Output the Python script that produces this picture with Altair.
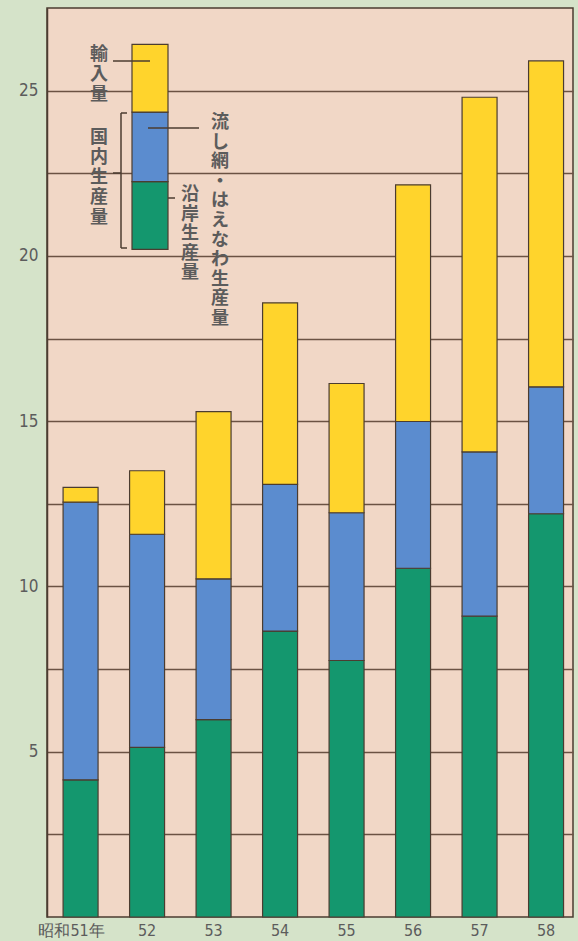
import altair as alt
import pandas as pd

# 昭和51〜58年の供給量（万トン）：沿岸・流し網はえなわ・輸入
years = ["昭和51年", "52", "53", "54", "55", "56", "57", "58"]
coastal = [4.15, 5.13, 5.97, 8.65, 7.76, 10.55, 9.10, 12.20]
driftnet = [8.40, 6.45, 4.26, 4.44, 4.47, 4.44, 4.97, 3.84]
imports = [0.45, 1.92, 5.06, 5.49, 3.91, 7.16, 10.73, 9.86]

series_names = ["沿岸生産量", "流し網・はえなわ生産量", "輸入量"]
series_colors = ["#14976e", "#5b8ccf", "#ffd42c"]

# key bar boundaries (same units as the y axis)
key_bounds = [20.2, 22.25, 24.35, 26.4]

y_ticks = [2.5, 5, 7.5, 10, 12.5, 15, 17.5, 20, 22.5, 25]

rows = []
for i, yr in enumerate(years):
    base = 0.0
    for name, vals in zip(series_names, [coastal, driftnet, imports]):
        rows.append({"year": yr, "series": name, "y0": base, "y1": base + vals[i]})
        base += vals[i]
bars_df = pd.DataFrame(rows)

key_df = pd.DataFrame({
    "series": series_names,
    "y0": key_bounds[:-1],
    "y1": key_bounds[1:],
})

W, H = 526, 909
INK = "#4b3c30"
TEXT = "#5c5c5c"
NUM_FONT = "Liberation Sans Narrow, DejaVu Sans Condensed, Roboto, sans-serif"
JP_FONT = "Noto Sans CJK JP"

x_scale = alt.Scale(domain=years, paddingInner=0.474, paddingOuter=0.192, align=0.63)
y_scale = alt.Scale(domain=[0, 27.5], nice=False, zero=True)
color_scale = alt.Scale(domain=series_names, range=series_colors)

bars = alt.Chart(bars_df).mark_bar(stroke=INK, strokeWidth=1.2).encode(
    x=alt.X("year:N", scale=x_scale, sort=years, title=None,
            axis=alt.Axis(labelAngle=0, ticks=False, domain=False,
                          labelFontSize=16, labelColor=TEXT, labelFont=NUM_FONT,
                          labelPadding=5, labelBaseline="top",
                          labelOffset={"condition": {"test": "datum.value == '昭和51年'",
                                                     "value": -9},
                                       "value": 0})),
    y=alt.Y("y1:Q", scale=y_scale, title=None,
            axis=alt.Axis(values=y_ticks, grid=True, gridColor="#6b5243", gridWidth=1.6,
                          gridOpacity=1, ticks=False, domain=True, domainColor=INK,
                          domainWidth=1.5,
                          labelExpr="datum.value % 5 == 0 ? datum.label : ''",
                          labelFontSize=17, labelColor=TEXT, labelFont=NUM_FONT,
                          labelPadding=9)),
    y2="y0:Q",
    color=alt.Color("series:N", scale=color_scale, legend=None),
)

key = alt.Chart(key_df).mark_bar(stroke=INK, strokeWidth=1.2).encode(
    x=alt.value(85), x2=alt.value(121),
    y=alt.Y("y1:Q", scale=y_scale), y2="y0:Q",
    color=alt.Color("series:N", scale=color_scale, legend=None),
)

one = pd.DataFrame({"k": [0]})


def rule(x1, x2, y1, y2=None):
    enc = dict(x=alt.value(x1), x2=alt.value(x2), y=alt.value(y1))
    if y2 is not None:
        enc["y2"] = alt.value(y2)
    return alt.Chart(one).mark_rule(color=INK, strokeWidth=1.5).encode(**enc)


def vtext(label, x, y, step):
    return alt.Chart(one).mark_text(
        text="\n".join(label), lineBreak="\n", lineHeight=step,
        align="center", baseline="top", font=JP_FONT, fontSize=18,
        color=TEXT, fontWeight="bold",
    ).encode(x=alt.value(x), y=alt.value(y))


annotations = [
    # imports leader and label
    rule(66, 103, 53),
    vtext("輸入量", 52, 38, 20),
    # domestic production bracket
    vtext("国内生産量", 52, 121, 20),
    rule(74, 74, 105, 240),
    rule(74, 80, 105),
    rule(74, 80, 240),
    rule(66, 74, 165),
    # drift-net / longline leader and label
    rule(101, 152, 120),
    vtext("流し網・はえなわ生産量", 173, 106, 19.6),
    # coastal leader and label
    rule(121, 128, 190),
    vtext("沿岸生産量", 143, 178, 19.6),
]

chart = alt.layer(bars, key, *annotations).properties(
    width=W, height=H,
    padding={"left": 47, "top": 8, "right": 5, "bottom": 24},
    autosize=alt.AutoSizeParams(type="none"),
    background="#d5e3c9",
).configure_view(
    fill="#f1d7c6", stroke=INK, strokeWidth=1.5,
)

chart.save("out.html", embed_options={"renderer": "svg", "actions": False})
